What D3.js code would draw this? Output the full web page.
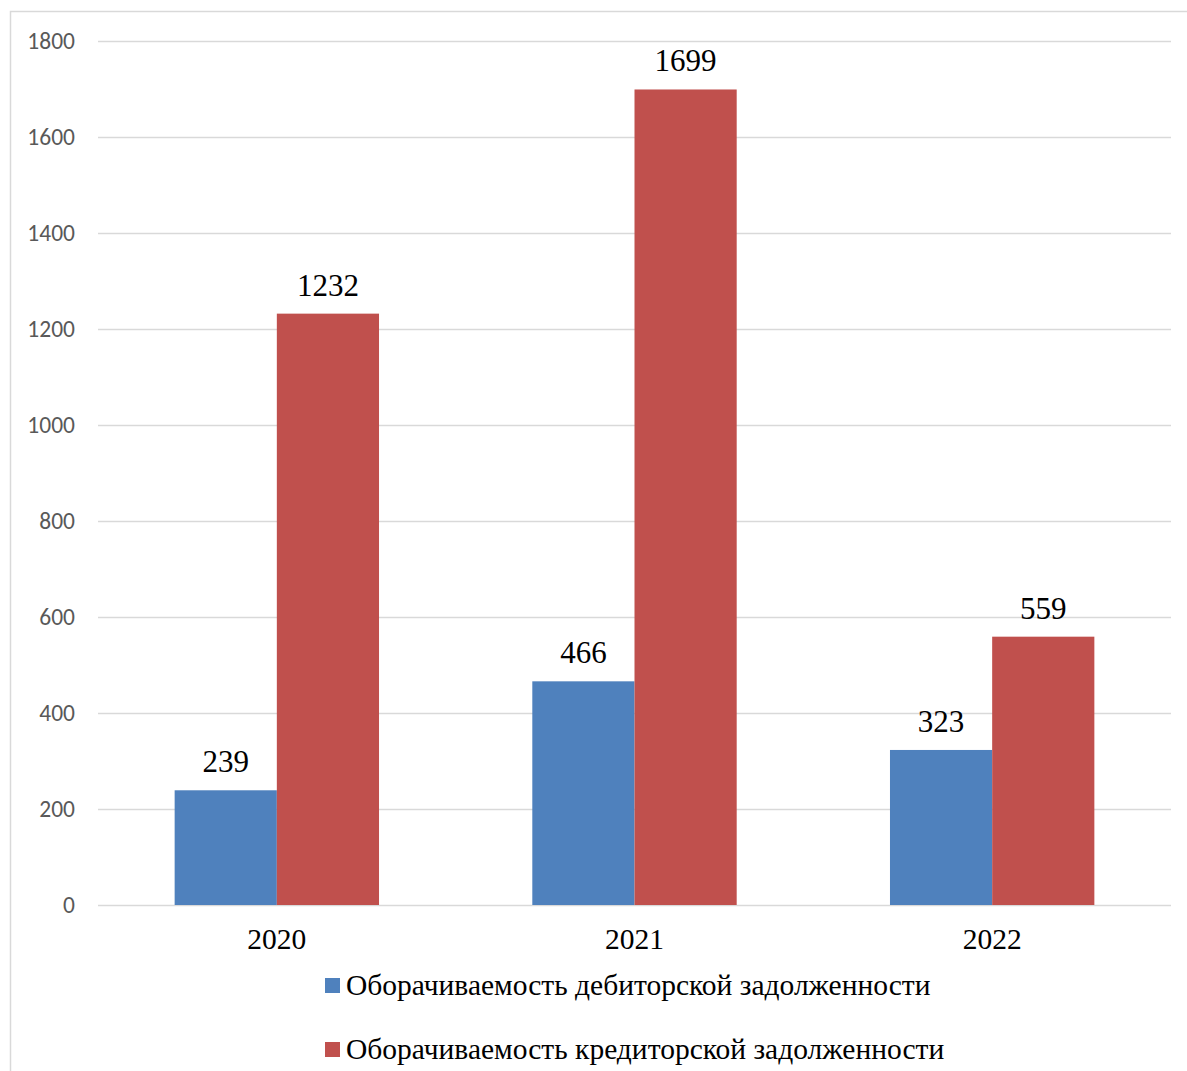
<!DOCTYPE html>
<html><head><meta charset="utf-8">
<script src="https://cdn.jsdelivr.net/npm/d3@7"></script>
<style>body{margin:0;background:#fff}svg{display:block}</style>
</head><body><svg id="c" width="1187" height="1071"></svg>
<script>
const categories = ["2020","2021","2022"];
const seriesNames = ["Оборачиваемость дебиторской задолженности","Оборачиваемость кредиторской задолженности"];
const debitor = [239, 466, 323];
const creditor = [1232, 1699, 559];
const yTicks = [0,200,400,600,800,1000,1200,1400,1600,1800];
const colors = ["#4f81bd","#c0504d"];

const svg = d3.select("#c");
svg.append("rect").attr("x",10.5).attr("y",11.5).attr("width",1300).attr("height",1200)
  .attr("fill","#fff").attr("stroke","#d9d9d9").attr("stroke-width",1.5);

const L=98,R=1171,T=41,B=905;
const x = d3.scaleBand().domain(categories).range([L,R]).paddingInner(0).paddingOuter(0);
const y = d3.scaleLinear().domain([0,1800]).range([B,T]);
const bw = x.bandwidth()/3.5;

const grid = svg.append("g");
yTicks.forEach(t=>{
  grid.append("line").attr("x1",L).attr("x2",R).attr("y1",Math.round(y(t))+0.5).attr("y2",Math.round(y(t))+0.5)
    .attr("stroke","#d9d9d9").attr("stroke-width",1.5);
});
const yAxis = svg.append("g").attr("transform",`translate(${L},0)`)
  .call(d3.axisLeft(y).tickValues(yTicks).tickSize(0).tickPadding(23).tickFormat(d3.format("d")));
yAxis.select(".domain").remove();
yAxis.selectAll("text").attr("font-family","Carlito, Lato, 'Open Sans', sans-serif").attr("font-size",23.5).attr("fill","#595959");

const xAxis = svg.append("g").attr("transform",`translate(0,${B})`)
  .call(d3.axisBottom(x).tickSize(0).tickPadding(23));
xAxis.select(".domain").remove();
xAxis.selectAll("text").attr("font-family","'Liberation Serif','Times New Roman',serif").attr("font-size",29.5).attr("fill","#000");

const series=[debitor,creditor];
series.forEach((vals,si)=>{
  const g=svg.append("g");
  categories.forEach((c,i)=>{
    const cx = x(c)+x.bandwidth()/2;
    const x0 = cx - bw + si*bw;
    g.append("rect").attr("x",x0).attr("y",y(vals[i])).attr("width",bw).attr("height",B-y(vals[i])).attr("fill",colors[si]);
    g.append("text").attr("x",x0+bw/2).attr("y",y(vals[i])-18).attr("text-anchor","middle")
      .attr("font-family","'Liberation Serif','Times New Roman',serif").attr("font-size",31).attr("fill","#000").text(vals[i]);
  });
});

const leg = svg.append("g");
seriesNames.forEach((n,i)=>{
  const ly = 978 + i*64;
  leg.append("rect").attr("x",325).attr("y",ly).attr("width",15).attr("height",15).attr("fill",colors[i]);
  leg.append("text").attr("x",346).attr("y",ly+17).attr("font-family","'Liberation Serif','Times New Roman',serif")
    .attr("font-size",29.5).attr("fill","#000").text(n);
});
</script></body></html>
